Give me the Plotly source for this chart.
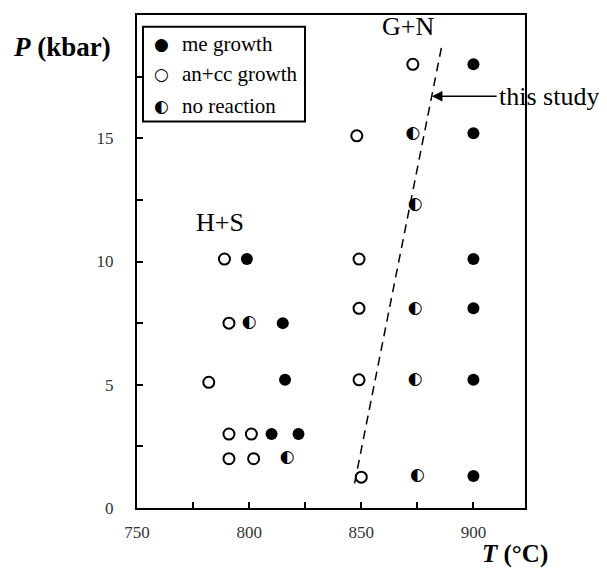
import plotly.graph_objects as go

# me growth (filled circles)
me_T = [900, 900, 900, 900, 900, 900, 799, 815, 816, 810, 822]
me_P = [18.0, 15.2, 10.1, 8.1, 5.2, 1.3, 10.1, 7.5, 5.2, 3.0, 3.0]
# an+cc growth (open circles)
an_T = [873, 848, 849, 849, 849, 850, 789, 791, 782, 791, 801, 791, 802]
an_P = [18.0, 15.1, 10.1, 8.1, 5.2, 1.25, 10.1, 7.5, 5.1, 3.0, 3.0, 2.0, 2.0]
# no reaction (half-filled circles)
nr_T = [873, 874, 874, 874, 875, 800, 817]
nr_P = [15.2, 12.3, 8.1, 5.2, 1.3, 7.5, 2.05]
# reaction boundary (this study)
bound_T = [847, 886]
bound_P = [1.0, 18.8]

x_ticks = [750, 800, 850, 900]
x_minor = [775, 825, 875]
y_ticks = [0, 5, 10, 15]
y_minor = [2.5, 7.5, 12.5, 17.5]

serif = "Liberation Serif, Times New Roman, serif"

fig = go.Figure()
fig.add_trace(go.Scatter(x=bound_T, y=bound_P, mode="lines",
                         line=dict(color="black", width=1.5, dash="9px,6px"),
                         showlegend=False, hoverinfo="skip"))
fig.add_trace(go.Scatter(x=me_T, y=me_P, mode="markers", name="me growth",
                         marker=dict(symbol="circle", size=12, color="black"),
                         showlegend=False))
fig.add_trace(go.Scatter(x=an_T, y=an_P, mode="markers", name="an+cc growth",
                         marker=dict(symbol="circle", size=11, color="white",
                                     line=dict(color="black", width=2)),
                         showlegend=False))
fig.add_trace(go.Scatter(x=nr_T, y=nr_P, mode="text", name="no reaction",
                         text=["\u25D0"] * len(nr_T), textposition="middle center",
                         textfont=dict(family="DejaVu Sans", size=17, color="black"),
                         showlegend=False, cliponaxis=False))

fig.update_layout(
    width=599, height=563,
    margin=dict(l=129, r=82, t=5, b=63),
    paper_bgcolor="white", plot_bgcolor="white",
    font=dict(family=serif, color="black"),
    xaxis=dict(range=[750, 923], showline=True, linecolor="black", linewidth=2,
               mirror=True, showgrid=False, zeroline=False,
               tickmode="array", tickvals=x_ticks, ticks="inside", ticklen=6,
               tickwidth=1.5, tickcolor="black",
               minor=dict(tickmode="array", tickvals=x_minor, ticks="inside",
                          ticklen=6, tickwidth=1.5, tickcolor="black", showgrid=False),
               tickfont=dict(family=serif, size=17, color="#333"),
               ticklabelstandoff=8),
    yaxis=dict(range=[0, 20], showline=True, linecolor="black", linewidth=2,
               mirror=True, showgrid=False, zeroline=False,
               tickmode="array", tickvals=y_ticks, ticks="inside", ticklen=6,
               tickwidth=1.5, tickcolor="black",
               minor=dict(tickmode="array", tickvals=y_minor, ticks="inside",
                          ticklen=6, tickwidth=1.5, tickcolor="black", showgrid=False),
               tickfont=dict(family=serif, size=17, color="#333"),
               ticklabelstandoff=18),
)

# axis titles
fig.add_annotation(xref="paper", yref="paper", x=-0.193, y=0.935,
                   text="<b><i>P</i> (kbar)</b>", showarrow=False,
                   xanchor="center", yanchor="middle",
                   font=dict(family=serif, size=27, color="black"))
fig.add_annotation(xref="paper", yref="paper", x=0.974, y=-0.126,
                   text="<b><i>T</i> (°C)</b>", showarrow=False,
                   xanchor="center", yanchor="bottom",
                   font=dict(family=serif, size=25, color="black"))

# field labels
fig.add_annotation(x=871, y=19.55, text="G+N", showarrow=False,
                   xanchor="center", yanchor="middle",
                   font=dict(family=serif, size=26, color="black"))
fig.add_annotation(x=787, y=11.6, text="H+S", showarrow=False,
                   xanchor="center", yanchor="middle",
                   font=dict(family=serif, size=26, color="black"))

# arrow "this study"
fig.add_annotation(x=881.5, y=16.7, ax=911, ay=16.7, axref="x", ayref="y",
                   text="", showarrow=True, arrowhead=2, arrowsize=1.4,
                   arrowwidth=1.5, arrowcolor="black")
fig.add_annotation(x=910.5, y=16.7, text="this study", showarrow=False,
                   xanchor="left", yanchor="middle",
                   font=dict(family=serif, size=26, color="black"))

# legend box
fig.add_shape(type="rect", xref="paper", yref="paper",
              x0=0.0155, x1=0.433, y0=0.784, y1=0.976,
              line=dict(color="black", width=2), fillcolor="white", layer="above")
legend_rows = [("\u25CF", "me growth", 0.941),
               ("\u25CB", "an+cc growth", 0.881),
               ("\u25D0", "no reaction", 0.816)]
for glyph, label, yy in legend_rows:
    fig.add_annotation(xref="paper", yref="paper", x=0.0619, y=yy, text=glyph,
                       showarrow=False, xanchor="center", yanchor="middle",
                       font=dict(family="DejaVu Sans", size=17, color="black"))
    fig.add_annotation(xref="paper", yref="paper", x=0.111, y=yy, text=label,
                       showarrow=False, xanchor="left", yanchor="middle",
                       font=dict(family=serif, size=21, color="black"))

fig.write_html("out.html")
